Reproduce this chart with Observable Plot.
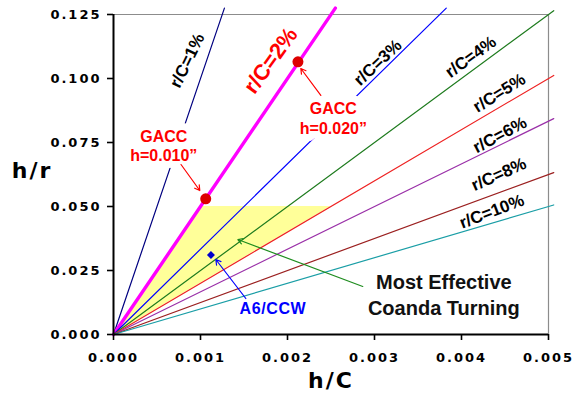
<!DOCTYPE html>
<html>
<head>
<meta charset="utf-8">
<script src="https://cdn.jsdelivr.net/npm/d3@7"></script>
<script src="https://cdn.jsdelivr.net/npm/@observablehq/plot@0.6"></script>
<style>
  body { margin: 0; background: #fff; }
</style>
</head>
<body>
<div id="chart"></div>
<script>
// Reference lines of constant r/C:  h/r = (h/C) / (r/C)
const ratios = [0.01, 0.02, 0.03, 0.04, 0.05, 0.06, 0.08, 0.10];
const ratioColors = ["#000080", "#ff00ff", "#0000ff", "#1e7b1e", "#ee2222", "#9a30a8", "#9b2020", "#1a9ea6"];

// Axis ticks
const xTicks = [0, 0.001, 0.002, 0.003, 0.004, 0.005];
const yTicks = [0, 0.025, 0.05, 0.075, 0.1, 0.125];

// GACC test points (h = 0.010" and 0.020")
const gaccHC = [0.00106, 0.00212];
const gaccHR = [0.053, 0.1065];
const gaccNames = ["GACC\nh=0.010\u201d", "GACC\nh=0.020\u201d"];

// A6/CCW configuration
const a6HC = [0.00112];
const a6HR = [0.0311];

// Most effective Coanda turning: between r/C = 2% and 5%, up to h/r = 0.05
const effectiveRatios = [0.02, 0.05];
const effectiveMaxHR = 0.05;

// ---- derived tables ----
const xMax = 0.005, yMax = 0.125;
const lines = ratios.map((r, i) => {
  const xe = Math.min(xMax * 1.012, yMax * 1.02 * r);
  return {name: `r/C=${Math.round(r * 100)}%`, color: ratioColors[i], r,
          pts: [{hc: 0, hr: 0}, {hc: xe, hr: xe / r}]};
});
// wedge between the two bounding r/C lines, from h/r = 0 up to the cap
const region = [0, effectiveMaxHR].map(hr => ({hr, left: hr * effectiveRatios[0], right: hr * effectiveRatios[1]}));
const gacc = gaccHC.map((hc, i) => ({hc, hr: gaccHR[i], name: gaccNames[i]}));
const a6 = a6HC.map((hc, i) => ({hc, hr: a6HR[i]}));

// Label placement for the r/C lines
const labelHC = [0.000848, 0.001808, 0.003038, 0.004107, 0.004435, 0.004441, 0.004429, 0.004348];
const labelHR = [0.1070, 0.1070, 0.1062, 0.1084, 0.0943, 0.0779, 0.0625, 0.0480];
const labelAngle = [-64, -54, -43, -36, -32, -28, -24, -21];
const lineLabels = lines.map((l, i) => ({text: l.name, hc: labelHC[i], hr: labelHR[i], angle: labelAngle[i], r: l.r}));

const sans = "'Liberation Sans', Arial, sans-serif";
const verdana = "'DejaVu Sans', Verdana, sans-serif";
const fmt = d3.format(".3f");

const marks = [
  // shaded region
  Plot.areaX(region, {y: "hr", x1: "left", x2: "right", fill: "#ffff99"}),
  // frame: light top/right
  Plot.ruleY([yMax], {stroke: "#8c8c8c", strokeWidth: 1.2}),
  Plot.ruleX([xMax], {stroke: "#8c8c8c", strokeWidth: 1.2}),
];
// constant r/C lines
for (const l of lines) {
  marks.push(Plot.line(l.pts, {x: "hc", y: "hr", stroke: l.color,
    strokeWidth: l.r === 0.02 ? 3.4 : 1.2}));
}
marks.push(
  // line labels
  Plot.text(lineLabels.filter(d => d.r !== 0.02), {x: "hc", y: "hr", text: "text", rotate: "angle",
    fontFamily: sans, fontWeight: "bold", fontSize: 17, fill: "#000"}),
  Plot.text(lineLabels.filter(d => d.r === 0.02), {x: "hc", y: "hr", text: "text", rotate: "angle",
    fontFamily: sans, fontWeight: "bold", fontSize: 22, fill: "#ff0000"}),
  // GACC labels
  Plot.text(gacc, {x: [0.000578, 0.002527], y: [0.0738, 0.08465], text: "name",
    fontFamily: sans, fontWeight: "bold", fontSize: 16, lineHeight: 1.2, fill: "#ff0000",
    stroke: "white", strokeWidth: 14, strokeLinejoin: "round", textAnchor: "middle", lineAnchor: "middle"}),
  Plot.arrow(gacc, {x1: [0.000776, 0.002383], y1: [0.0664, 0.0934], x2: [0.000992, 0.002153], y2: [0.05625, 0.1039],
    stroke: "#ff0000", strokeWidth: 1.2, headLength: 7}),
  Plot.dot(gacc, {x: "hc", y: "hr", r: 5.5, fill: "#dd0000"}),
  // A6/CCW
  Plot.text(["A6/CCW"], {x: [0.001832], y: [0.00996],
    fontFamily: sans, fontWeight: "bold", fontSize: 16, fill: "#0000ff", textAnchor: "middle", lineAnchor: "middle"}),
  Plot.arrow(a6, {x1: [0.001521], y1: [0.01406], x2: [0.001176], y2: [0.0293],
    stroke: "#0000ff", strokeWidth: 1.2, headLength: 7}),
  Plot.dot(a6, {x: "hc", y: "hr", r: 3.6, symbol: "diamond2", fill: "#0000cc"}),
  // most effective region annotation
  Plot.text(["Most Effective\nCoanda Turning"], {x: [0.003797], y: [0.0160],
    fontFamily: sans, fontWeight: "bold", fontSize: 20, lineHeight: 1.3, fill: "#111",
    textAnchor: "middle", lineAnchor: "middle"}),
  Plot.arrow([0], {x1: [0.002865], y1: [0.01875], x2: [0.001429], y2: [0.0371],
    stroke: "#1e8c1e", strokeWidth: 1.2, headLength: 7}),
  // axes
  Plot.axisX(xTicks, {tickFormat: fmt, tickSize: 6, tickPadding: 12, label: null,
    fontSize: 13, fontWeight: "bold", fontFamily: verdana, stroke: "#000", strokeWidth: 1.6}),
  Plot.axisY(yTicks, {tickFormat: fmt, tickSize: 6, tickPadding: 6, label: null,
    fontSize: 13, fontWeight: "bold", fontFamily: verdana, stroke: "#000", strokeWidth: 1.6}),
  Plot.ruleX([0], {stroke: "#000", strokeWidth: 2}),
  Plot.ruleY([0], {stroke: "#000", strokeWidth: 2}),
  // axis titles
  Plot.text(["h/C"], {frameAnchor: "bottom", dy: 46, lineAnchor: "middle", textAnchor: "middle",
    fontFamily: verdana, fontWeight: "bold", fontSize: 22, fill: "#000"}),
  Plot.text(["h/r"], {frameAnchor: "left", dx: -81.5, dy: -4, lineAnchor: "middle", textAnchor: "middle",
    fontFamily: verdana, fontWeight: "bold", fontSize: 22, fill: "#000"})
);

const chart = Plot.plot({
  width: 576,
  height: 394,
  marginLeft: 113,
  marginRight: 28,
  marginTop: 14,
  marginBottom: 60,
  x: {domain: [0, xMax]},
  y: {domain: [0, yMax]},
  style: {fontFamily: verdana, color: "#000", background: "#fff", overflow: "visible"},
  marks
});

// Letter spacing of the tick labels and axis titles
const tickLabels = new Set([...xTicks, ...yTicks].map(fmt));
chart.querySelectorAll("text").forEach(t => {
  const s = t.textContent;
  if (tickLabels.has(s)) {
    t.style.letterSpacing = "2px";
    t.style.fill = "#000";
  } else if (s === "h/r" || s === "h/C") {
    t.style.letterSpacing = "2px";
  } else if (s === "A6/CCW") {
    t.style.letterSpacing = "0.6px";
  }
});
document.getElementById("chart").appendChild(chart);
</script>
</body>
</html>
